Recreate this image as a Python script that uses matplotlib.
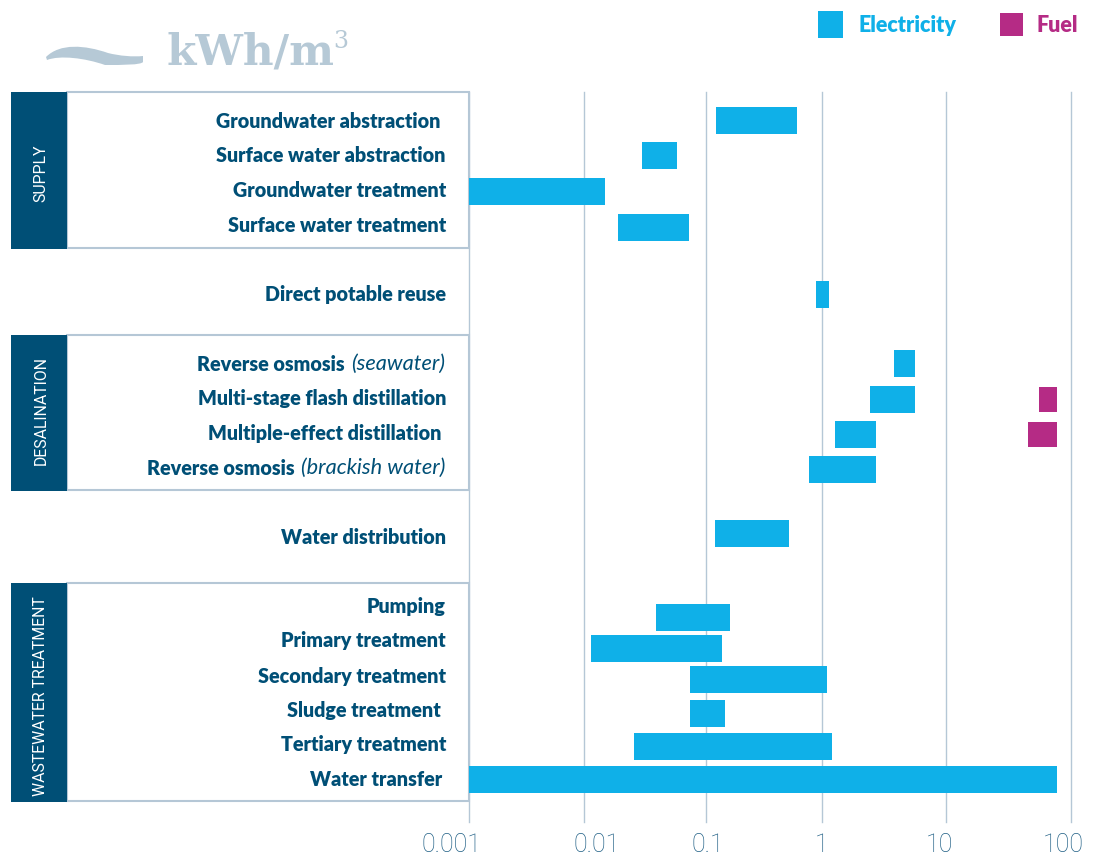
import numpy as np
import matplotlib
matplotlib.use("Agg")
import matplotlib.pyplot as plt
from matplotlib.patches import Rectangle, PathPatch
from matplotlib.path import Path
from matplotlib.transforms import ScaledTranslation

W, H = 1093, 856

labels = ["Groundwater abstraction", "Surface water abstraction", "Groundwater treatment",
          "Surface water treatment", "Direct potable reuse", "Reverse osmosis",
          "Multi-stage flash distillation", "Multiple-effect distillation", "Reverse osmosis",
          "Water distribution", "Pumping", "Primary treatment", "Secondary treatment",
          "Sludge treatment", "Tertiary treatment", "Water transfer"]
notes = ["", "", "", "", "", "(seawater)", "", "", "(brackish water)", "", "", "", "", "", "", ""]
elec_low = [0.122, 0.0299, 0.001, 0.019, 0.887, 3.8, 2.44, 1.27, 0.77, 0.12,
            0.039, 0.0114, 0.074, 0.074, 0.0257, 0.001]
elec_high = [0.61, 0.058, 0.0149, 0.0726, 1.14, 5.6, 5.6, 2.72, 2.72, 0.52,
             0.161, 0.137, 1.10, 0.146, 1.2, 77]
fuel_rows = [6, 7]
fuel_low = [55.5, 45.3]
fuel_high = [77, 77]
ticks = [0.001, 0.01, 0.1, 1, 10, 100]
tick_labels = ["0.001", "0.01", "0.1", "1", "10", "100"]
groups = ["SUPPLY", "DESALINATION", "WASTEWATER TREATMENT"]

# layout, in picture pixels
row_y = [120, 155.5, 191.5, 227.5, 294, 363.5, 399.5, 434.5, 469.5, 533.5,
         617.5, 648.5, 679.5, 713.5, 746.5, 779.5]
bar_h = 27
label_y = [121, 155, 190, 225, 294, 364, 398, 433, 468, 537, 606, 641, 676, 710, 745, 780]
label_right = [441, 446, 446, 446, 446, 445, 446, 441, 445, 446, 446, 446, 446, 441, 446, 442]
group_top = [92, 335, 583]
group_bottom = [248, 490, 801]
group_text_y = [173, 410, 696]
grid_px = [469, 584, 706, 822, 946, 1071]
tick_shift = [-17, 13, 2, 0, -7, -8]

DARK = "#004f76"
BLUE = "#0fb0e8"
PURPLE = "#b52b85"
LINE = "#b5c7d6"
PALE = "#b6c9d6"
FONT = ["Lato", "DejaVu Sans"]

fig = plt.figure(figsize=(W / 100, H / 100), dpi=100)

# the printed decades are not quite even, so the scale follows the gridlines
dec = np.log10(ticks)
def forward(v):
    return np.interp(np.log10(np.maximum(v, 1e-9)), dec, grid_px)
def inverse(p):
    return 10 ** np.interp(p, grid_px, dec)

bg = fig.add_axes([0, 0, 1, 1])
bg.set_xlim(0, W)
bg.set_ylim(H, 0)
bg.axis("off")

for top, bottom, name, ty in zip(group_top, group_bottom, groups, group_text_y):
    bg.add_patch(Rectangle((67, top), 402, bottom - top, fc="white", ec=LINE, lw=1.5))
    bg.add_patch(Rectangle((11, top), 56, bottom - top + 1, fc=DARK, ec="none"))
    bg.text(41, ty, name, rotation=90, color="white", ha="center",
            va="center", fontsize=11.4, family=["Roboto", "DejaVu Sans"])

ax = fig.add_axes([469 / W, 1 - 822 / H, (1071 - 469) / W, (822 - 92) / H])
ax.patch.set_alpha(0)
ax.set_xscale("function", functions=(forward, inverse))
ax.set_xlim(0.001, 100)
ax.set_ylim(822, 92)
for s in ax.spines.values():
    s.set_visible(False)
ax.set_yticks([])
ax.set_xticks(ticks, tick_labels)
ax.minorticks_off()
ax.tick_params(axis="x", length=0, pad=8, labelsize=18, labelcolor="#1f5f85")
for lab, dx in zip(ax.get_xticklabels(), tick_shift):
    lab.set_fontfamily(["Roboto", "DejaVu Sans"])
    lab.set_fontweight("light")
    lab.set_transform(lab.get_transform() + ScaledTranslation(dx / 100, 0, fig.dpi_scale_trans))
ax.grid(axis="x", color=LINE, lw=1, clip_on=False)
ax.set_axisbelow(True)

low = np.array(elec_low)
high = np.array(elec_high)
ax.barh(row_y, high - low, left=low, height=bar_h, color=BLUE, zorder=3)
ax.barh([row_y[i] for i in fuel_rows], np.array(fuel_high) - np.array(fuel_low), left=fuel_low,
        height=bar_h - 2, color=PURPLE, zorder=3)

fig.canvas.draw()
rend = fig.canvas.get_renderer()
for y, name, note, right in zip(label_y, labels, notes, label_right):
    x = right
    if note:
        t = bg.text(x, y, note, ha="right", va="center", color=DARK, fontsize=15.7,
                    family=FONT, style="italic")
        x -= t.get_window_extent(rend).width + 6
    bg.text(x, y, name, ha="right", va="center", color=DARK, fontsize=14.25,
            family=FONT, fontweight=800)

# wave in front of the unit
wave = [(46, 57), (60, 43), (85, 45), (108, 53), (120, 56), (133, 57), (143, 56), (143, 62),
        (141, 65), (122, 65), (105, 65), (85, 58), (60, 55), (47, 60), (46, 57)]
codes = [Path.MOVETO] + [Path.CURVE4] * 6 + [Path.LINETO] + [Path.CURVE4] * 6 + [Path.LINETO]
bg.add_patch(PathPatch(Path(wave, codes), fc=PALE, ec="none"))
bg.text(166, 64, "kWh/m", color=PALE, fontsize=30.5, family="DejaVu Serif", fontweight="bold",
        va="baseline")
bg.text(333, 48, "3", color=PALE, fontsize=17, family="DejaVu Serif", va="baseline")

# legend
bg.add_patch(Rectangle((818, 11), 25, 27, fc=BLUE, ec="none"))
bg.add_patch(Rectangle((1000, 13), 23, 23, fc=PURPLE, ec="none"))
bg.text(858, 25, "Electricity", color=BLUE, fontsize=15.5, family=FONT, fontweight=800, va="center")
bg.text(1036, 25, "Fuel", color=PURPLE, fontsize=15.5, family=FONT, fontweight=800, va="center")

fig.savefig("out.png", dpi=100)
